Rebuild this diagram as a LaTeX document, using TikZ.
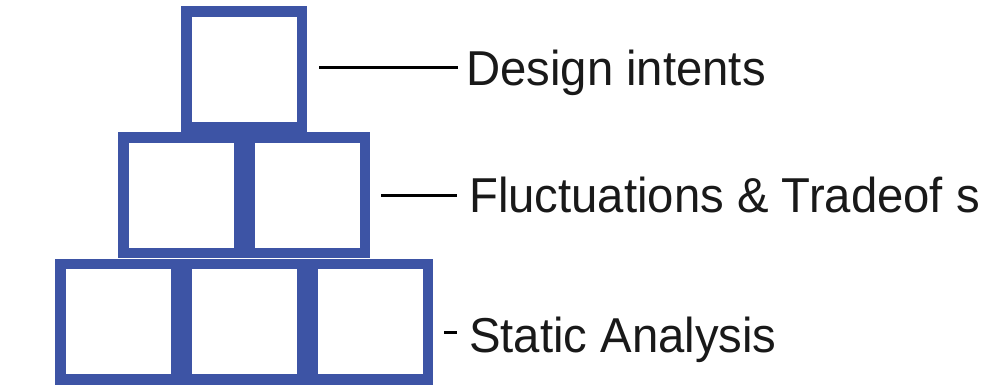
\documentclass[tikz,border=0pt]{standalone}
\usepackage{fontspec}
\setmainfont[FakeStretch=0.965]{Liberation Sans}
\definecolor{boxblue}{RGB}{61,84,165}
\begin{document}
\begin{tikzpicture}[x=1pt,y=-1pt,
  cube/.style={draw=boxblue,line width=10.5pt,fill=white,minimum size=115.5pt,inner sep=0pt},
  lbl/.style={anchor=base west,inner sep=0pt,font=\fontsize{49}{56}\selectfont,text=black!90},
  lead/.style={draw=black,line width=3pt}]
\useasboundingbox (0,0) rectangle (994,389);
\node[cube] (t1) at (244,69) {};
\node[cube] (m1) at (181,195) {};
\node[cube] (m2) at (307,195) {};
\node[cube] (b1) at (118,321.5) {};
\node[cube] (b2) at (244,321.5) {};
\node[cube] (b3) at (370,321.5) {};
\node[lbl] (l1) at (466,85) {Design intents};
\node[lbl] (l2) at (469,212) {Fluctuations \& Tradeof s};
\node[lbl] (l3) at (469,352) {Static Analysis};
\coordinate (s1) at (319,67.5);
\coordinate (s2) at (381,195);
\coordinate (s3) at (444,332);
\draw[lead] (s1) -- (s1 -| 458,0);
\draw[lead] (s2) -- (s2 -| 457,0);
\draw[lead] (s3) -- (s3 -| 457,0);
\end{tikzpicture}
\end{document}
